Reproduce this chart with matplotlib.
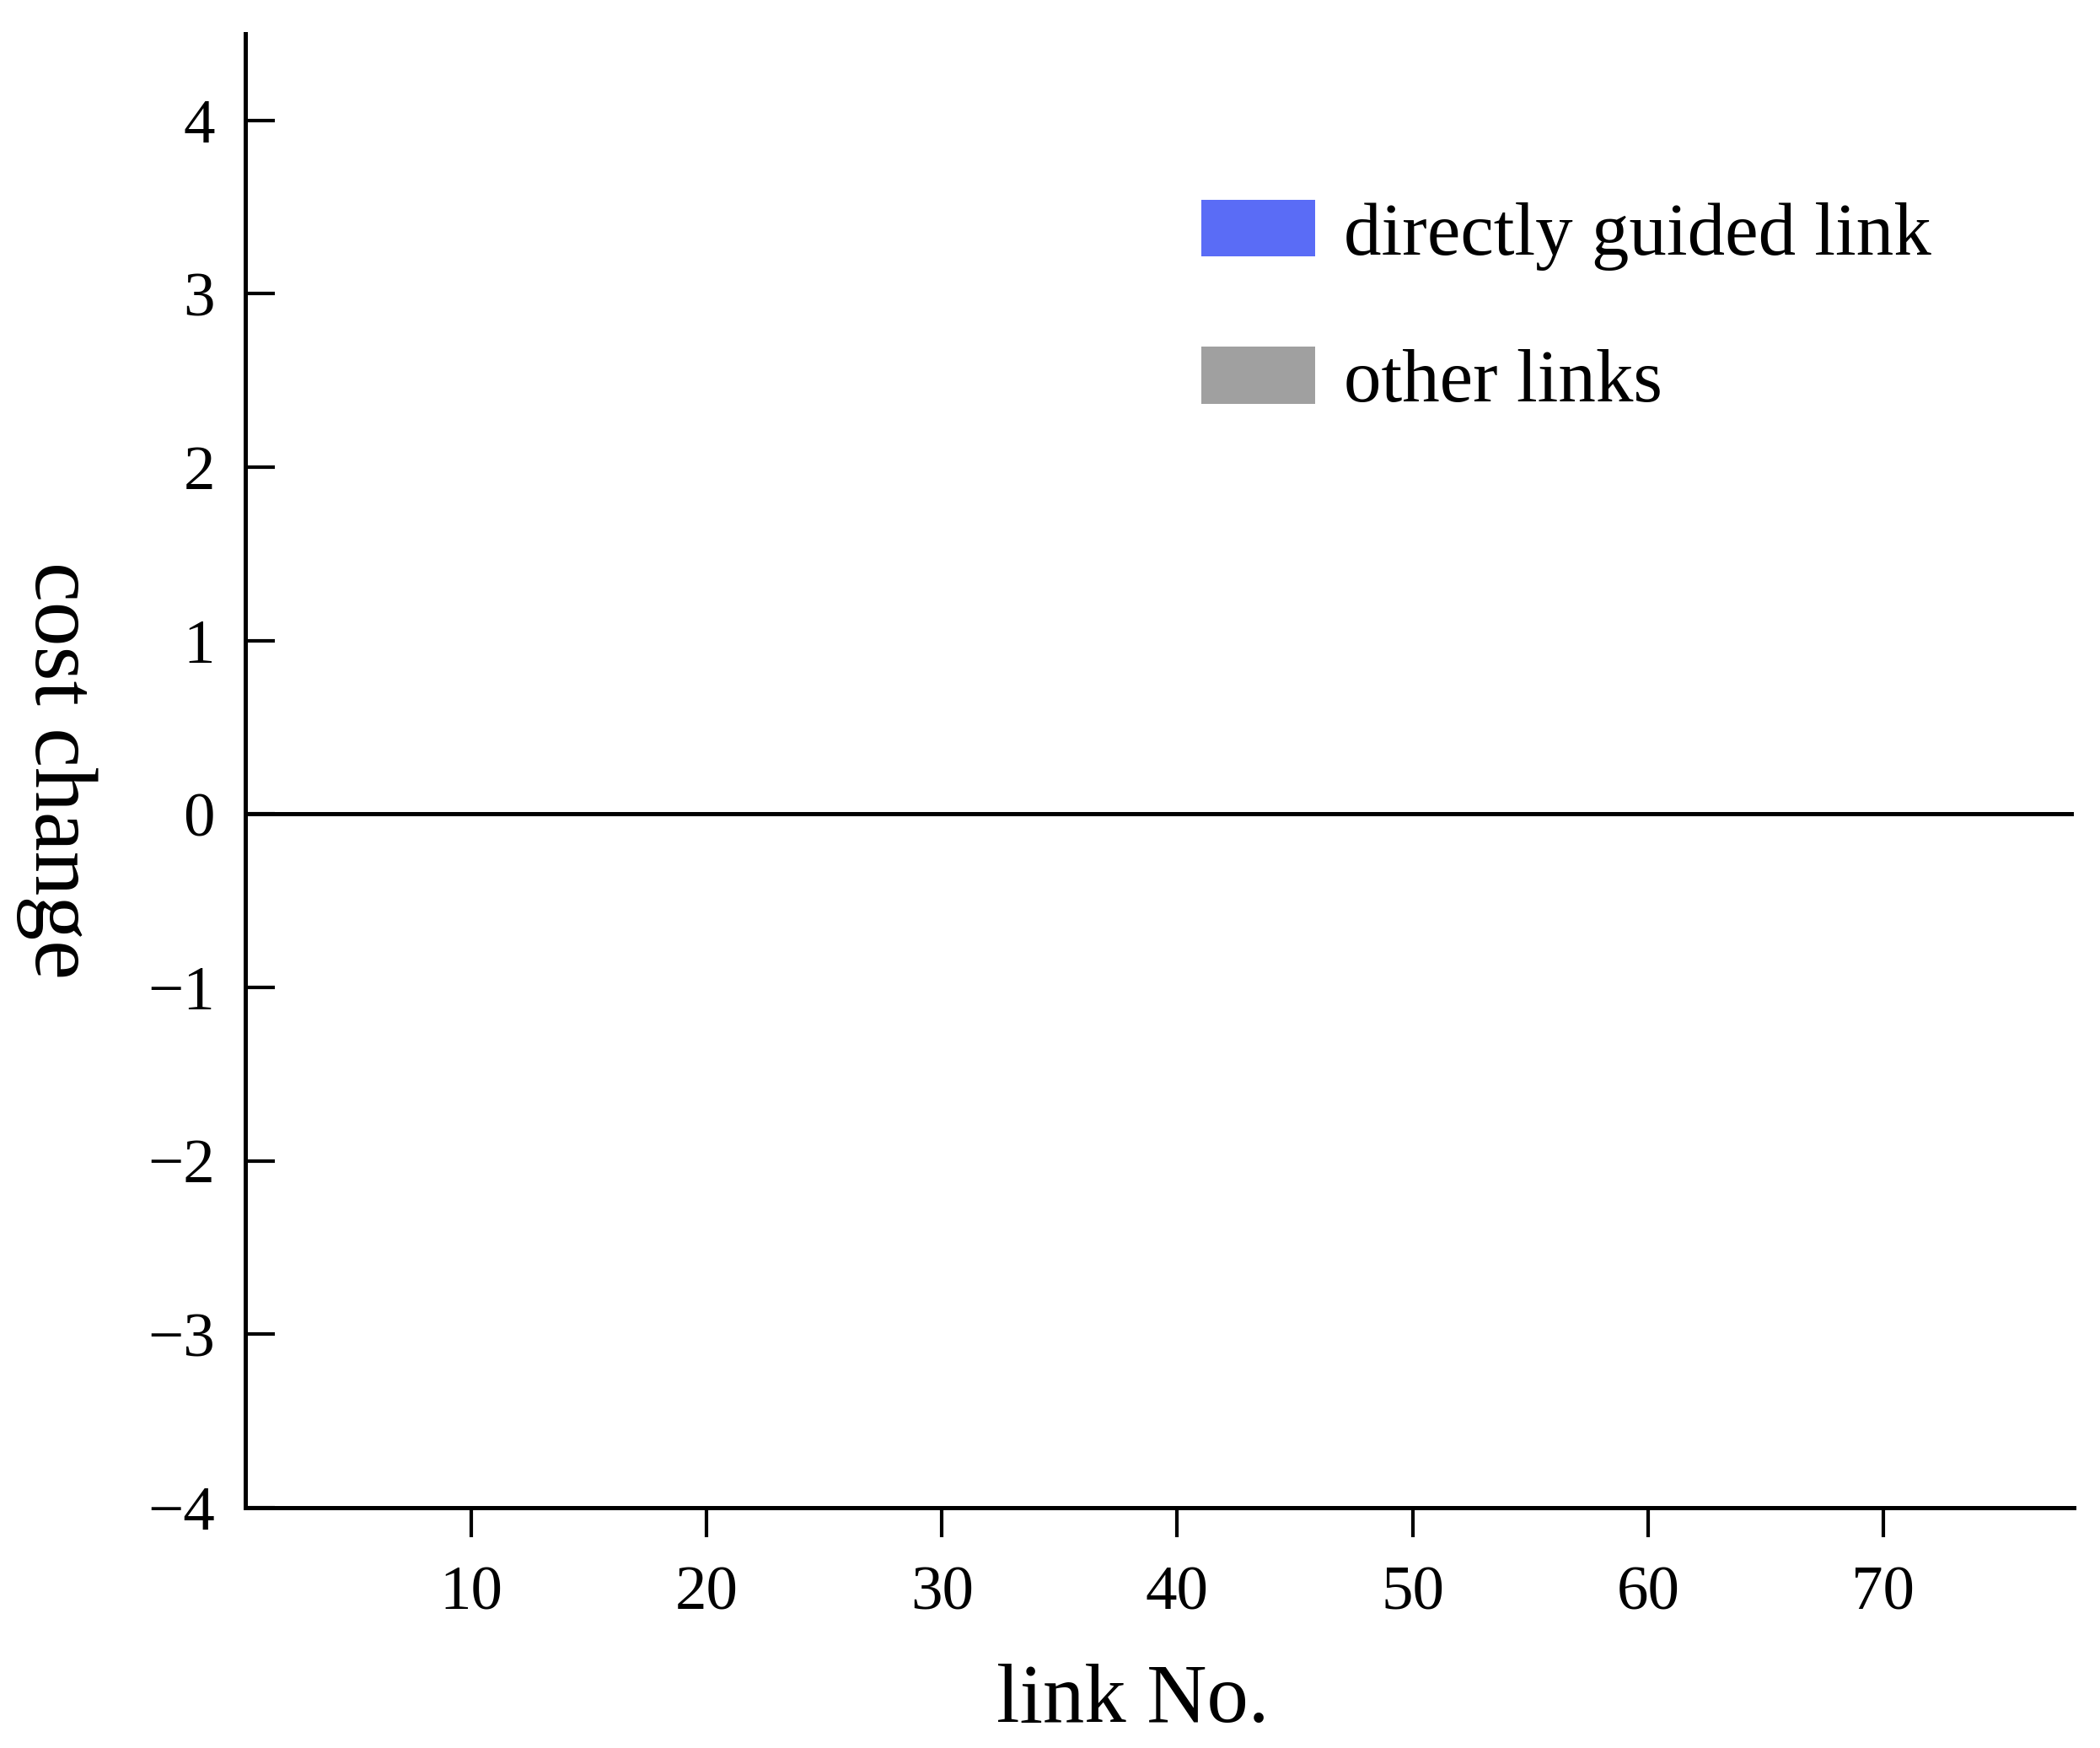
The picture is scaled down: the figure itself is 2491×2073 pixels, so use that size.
import matplotlib
matplotlib.use("Agg")
import matplotlib.pyplot as plt
import matplotlib.patches as mpatches

plt.rcParams['font.family'] = ['Liberation Serif', 'DejaVu Serif']
plt.rcParams['axes.unicode_minus'] = True

# link numbers and cost change (all bars sit at zero)
link_no = list(range(1, 78))
cost_change = [
    0, 0, 0, 0, 0, 0, 0, 0, 0, 0, 0,
    0, 0, 0, 0, 0, 0, 0, 0, 0, 0, 0,
    0, 0, 0, 0, 0, 0, 0, 0, 0, 0, 0,
    0, 0, 0, 0, 0, 0, 0, 0, 0, 0, 0,
    0, 0, 0, 0, 0, 0, 0, 0, 0, 0, 0,
    0, 0, 0, 0, 0, 0, 0, 0, 0, 0, 0,
    0, 0, 0, 0, 0, 0, 0, 0, 0, 0, 0,
]
# no directly guided link can be seen in the picture
guided_links = []

x_ticks = [10, 20, 30, 40, 50, 60, 70]
y_ticks = [-4, -3, -2, -1, 0, 1, 2, 3, 4]

blue = '#5a6cf6'
gray = '#a0a0a0'

fig = plt.figure(figsize=(24.91, 20.73), dpi=100)
ax = fig.add_axes([0.1168, 0.1375, 0.8708, 0.8432])

colors = [blue if n in guided_links else gray for n in link_no]
ax.bar(link_no, cost_change, width=0.8, color=colors, linewidth=0)
ax.axhline(0, color='black', linewidth=3.6)

ax.set_xlim(0.4, 78.1)
ax.set_ylim(-4, 4.5)
ax.set_xticks(x_ticks)
ax.set_yticks(y_ticks)

for side in ['top', 'right']:
    ax.spines[side].set_visible(False)
for side in ['left', 'bottom']:
    ax.spines[side].set_linewidth(3.6)

ax.tick_params(axis='x', direction='out', length=25, width=3.0, pad=25, labelsize=54)
ax.tick_params(axis='y', direction='in', length=25, width=3.0, pad=26, labelsize=54)

ax.set_xlabel('link No.', fontsize=71, va='baseline')
ax.xaxis.set_label_coords(0.4855, -0.1453)
ax.set_ylabel('cost change', fontsize=76, rotation=270, va='center')
ax.yaxis.set_label_coords(-0.1033, 0.5)

handles = [
    mpatches.Patch(facecolor=blue, label='directly guided link'),
    mpatches.Patch(facecolor=gray, label='other links'),
]
ax.legend(handles=handles, loc='upper left', bbox_to_anchor=(1425 / 2491, 1 - 237 / 2073),
          bbox_transform=fig.transFigure, frameon=False, fontsize=64,
          handlelength=1.52, handleheight=0.79, handletextpad=0.38,
          labelspacing=1.02, borderpad=0, borderaxespad=0)

fig.savefig('out.png', dpi=100)
